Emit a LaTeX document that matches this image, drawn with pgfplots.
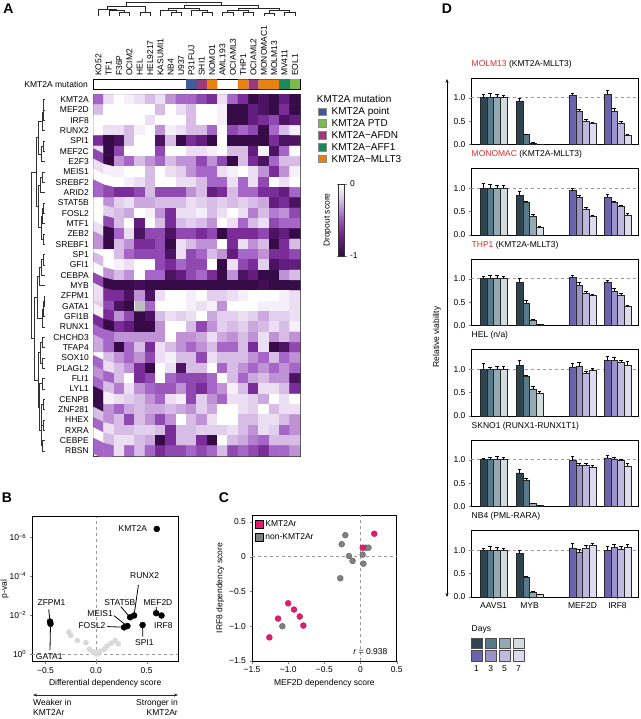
\documentclass[border=0pt]{standalone}
\usepackage{fontspec}
\setmainfont{Liberation Sans}
\usepackage{pgfplots}
\pgfplotsset{compat=1.18}
\usetikzlibrary{calc,arrows.meta}
\newcommand{\fs}{\fontsize{8.5}{10}\selectfont}
\definecolor{kpoint}{HTML}{3F5B9A}
\definecolor{kptd}{HTML}{7DBA4C}
\definecolor{kafdn}{HTML}{9B3A7A}
\definecolor{kaff1}{HTML}{1A8A5C}
\definecolor{kmllt3}{HTML}{E8820E}
\definecolor{kpink}{HTML}{E8196F}
\definecolor{tred}{HTML}{E32B2B}
\definecolor{g1}{HTML}{2E4550}
\definecolor{g3}{HTML}{58798A}
\definecolor{g5}{HTML}{93A9B3}
\definecolor{g7}{HTML}{D2DCDF}
\definecolor{p1}{HTML}{6C63AE}
\definecolor{p3}{HTML}{9B93C9}
\definecolor{p5}{HTML}{BFB9DF}
\definecolor{p7}{HTML}{DEDBEF}
\definecolor{lgray}{HTML}{D9D9D9}
\pgfplotsset{
  every axis/.append style={font=\fs, /pgf/number format/assume math mode=true,
    tick label style={font=\fs}, label style={font=\fs}, title style={font=\fs}},
  colormap={purp}{rgb255(0cm)=(55,10,72); rgb255(3cm)=(115,35,145); rgb255(5.5cm)=(165,100,198); rgb255(8cm)=(220,198,233); rgb255(10cm)=(255,255,255)},
  dpanel/.style={scale only axis, width=167pt, height=66.5pt, xmin=471, xmax=638, ymin=0, ymax=1.42,
    ytick={0,0.5,1}, yticklabels={0.0,0.5,1.0}, xtick=\empty, tick pos=left, tick align=outside,
    major tick length=2pt, axis line style={line width=0.6pt},
    title style={at={(0,1)}, anchor=south west, inner xsep=0.5pt, yshift=0.5pt}, clip=false},
  bst/.style={ybar, bar width=6.7, draw=black!85, line width=0.35pt,
    error bars/y dir=plus, error bars/y explicit,
    error bars/error bar style={black, line width=0.45pt},
    error bars/error mark options={rotate=90, black, mark size=1.8pt, line width=0.45pt}},
}
\newcommand{\dbars}[8]{%
\addplot[fill=g1,bst] coordinates {#1};
\addplot[fill=g3,bst] coordinates {#2};
\addplot[fill=g5,bst] coordinates {#3};
\addplot[fill=g7,bst] coordinates {#4};
\addplot[fill=p1,bst] coordinates {#5};
\addplot[fill=p3,bst] coordinates {#6};
\addplot[fill=p5,bst] coordinates {#7};
\addplot[fill=p7,bst] coordinates {#8};
}
\newcommand{\dline}{\addplot[dashed, black!40, line width=0.5pt] coordinates {(471,1) (638,1)};}
\begin{document}
\begin{tikzpicture}
\path[use as bounding box] (0,0) rectangle (640pt,-719pt);
% ---------------- Panel letters
\node[font=\bfseries\fontsize{14}{16}\selectfont] at (8.5pt,-9pt) {A};
\node[font=\bfseries\fontsize{14}{16}\selectfont] at (7pt,-498pt) {B};
\node[font=\bfseries\fontsize{14}{16}\selectfont] at (224pt,-498pt) {C};
\node[font=\bfseries\fontsize{14}{16}\selectfont] at (447pt,-8.5pt) {D};
% ---------------- top dendrogram
\begin{axis}[at={(93.3pt,-15.7pt)}, anchor=south west, scale only axis, width=206.7pt, height=13pt,
  xmin=-0.5, xmax=19.5, ymin=0, ymax=1, hide axis, unbounded coords=jump]
\addplot[black!85, line width=0.45pt] coordinates {
(2,0) (2,.25) (3,.25) (3,0) (nan,nan)
(1,0) (1,.4) (2.5,.4) (2.5,.25) (nan,nan)
(0,0) (0,.5) (1.75,.5) (1.75,.4) (nan,nan)
(4,0) (4,.3) (5,.3) (5,0) (nan,nan)
(0.875,.5) (0.875,.7) (4.5,.7) (4.5,.3) (nan,nan)
(7,0) (7,.3) (8,.3) (8,0) (nan,nan)
(6,0) (6,.45) (7.5,.45) (7.5,.3) (nan,nan)
(10,0) (10,.3) (11,.3) (11,0) (nan,nan)
(9,0) (9,.45) (10.5,.45) (10.5,.3) (nan,nan)
(6.75,.45) (6.75,.6) (9.75,.6) (9.75,.45) (nan,nan)
(12,0) (12,.25) (13,.25) (13,0) (nan,nan)
(14,0) (14,.3) (15,.3) (15,0) (nan,nan)
(12.5,.25) (12.5,.45) (14.5,.45) (14.5,.3) (nan,nan)
(16,0) (16,.2) (17,.2) (17,0) (nan,nan)
(18,0) (18,.3) (19,.3) (19,0) (nan,nan)
(16.5,.2) (16.5,.4) (18.5,.4) (18.5,.3) (nan,nan)
(13.5,.45) (13.5,.6) (17.5,.6) (17.5,.4) (nan,nan)
(8.25,.6) (8.25,.8) (15.5,.8) (15.5,.6) (nan,nan)
(2.6875,.7) (2.6875,1) (11.875,1) (11.875,.8)
};
\end{axis}
% ---------------- mutation bar
\begin{axis}[at={(93.3pt,-89.3pt)}, anchor=south west, scale only axis, width=206.7pt, height=10pt,
  xmin=-0.5, xmax=19.5, ymin=0, ymax=1, xtick=\empty, ytick={0.5}, yticklabels={KMT2A mutation},
  major tick length=0pt, yticklabel style={xshift=-2pt}, axis line style={line width=0.6pt}]
\addplot[ybar, bar width=1, fill=kpoint, draw=none] coordinates {(9,1)};
\addplot[ybar, bar width=1, fill=kafdn, draw=none] coordinates {(10,1) (15,1)};
\addplot[ybar, bar width=1, fill=kmllt3, draw=none] coordinates {(11,1) (14,1) (16,1) (17,1)};
\addplot[ybar, bar width=1, fill=kaff1, draw=none] coordinates {(18,1)};
\addplot[ybar, bar width=1, fill=kptd, draw=none] coordinates {(19,1)};
\end{axis}
% ---------------- heatmap
\begin{axis}[name=hm, at={(93.3pt,-456pt)}, anchor=south west, scale only axis, width=206.7pt, height=361.7pt,
  xmin=-0.5, xmax=19.5, ymin=-34.5, ymax=0.5, enlargelimits=false,
  colormap name=purp, point meta min=-1, point meta max=0,
  xtick={0,...,19},
  xticklabels={KO52,TF1,F36P,OCIM2,HEL,HEL9217,KASUMI1,NB4,U937,P31FUJ,SHI1,NOMO1,AML193,OCIAML3,THP1,OCIAML2,MONOMAC1,MOLM13,MV411,EOL1},
  xticklabel pos=upper, xticklabel style={rotate=90, anchor=west}, xticklabel shift=15pt,
  ytick={0,-1,...,-34},
  yticklabels={KMT2A,MEF2D,IRF8,RUNX2,SPI1,MEF2C,E2F3,MEIS1,SREBF2,ARID2,STAT5B,FOSL2,MTF1,ZEB2,SREBF1,SP1,GFI1,CEBPA,MYB,ZFPM1,GATA1,GFI1B,RUNX1,CHCHD3,TFAP4,SOX10,PLAGL2,FLI1,LYL1,CENPB,ZNF281,HHEX,RXRA,CEBPE,RBSN},
  yticklabel style={xshift=-1pt},
  major tick length=0pt, axis line style={black!75, line width=0.6pt},
  colorbar,
  colorbar style={at={($(parent axis.north east)+(30pt,-89.7pt)$)}, anchor=north west,
    scale only axis, width=6pt, height=72pt,
    ytick={-1,0}, yticklabels={-1,0}, yticklabel pos=right,
    major tick length=2pt, tick align=outside, axis line style={black!80, line width=0.4pt},
    ylabel={Dropout score}, ylabel style={at={(axis description cs:-0.6,0.5)}, anchor=south}},
]
\addplot[matrix plot*, mesh/cols=20, mesh/ordering=x varies, point meta=explicit]
table[row sep=\\, x expr={mod(\coordindex,20)}, y expr={-floor(\coordindex/20)}, meta expr={-\thisrow{v}/9}] {
v\\
4\\1\\0\\0.5\\1\\2\\1\\3\\4\\4\\5\\6\\1\\4\\6\\9\\8\\9\\7\\9\\
2\\0\\0\\0\\0\\0\\2\\0\\1\\2\\0\\0\\0.5\\9\\9\\7\\8\\9\\6\\9\\
0\\0\\0\\0\\0\\1\\0\\0\\0\\2\\0\\0\\0.5\\9\\9\\7\\6\\5\\8\\7\\
0\\1\\1\\2\\0.5\\0\\3\\0.5\\1\\2\\2\\4\\0\\5\\4\\5\\9\\4\\2\\0.5\\
6\\9\\8\\2\\0\\0\\8\\2\\9\\6\\7\\9\\0\\9\\9\\9\\9\\6\\8\\8\\
1\\9\\5\\0\\0\\0\\5\\0\\0\\1\\1\\0.5\\0\\2\\2\\7\\0.5\\8\\4\\0\\
5\\9\\3\\4\\2\\3\\4\\2\\3\\3\\5\\3\\5\\9\\2\\6\\8\\4\\2\\2\\
1\\0.5\\0.5\\0\\0\\2\\0\\1\\1.5\\3\\4\\4\\1\\0.5\\0\\1\\3\\6\\3\\0.5\\
0\\0\\0\\0.5\\1\\2\\0\\0\\1\\1\\2\\4\\4\\1\\4\\1\\5\\0\\1\\0\\
4\\5\\6\\6\\5\\2\\5\\5\\5\\3\\2\\7\\6\\2\\4\\4\\6\\6\\7\\4\\
0\\3\\1.5\\1\\2.5\\2.5\\2\\2\\2\\1\\1.5\\2\\1.5\\2\\1.5\\2\\2.5\\7\\6\\8\\
0\\1.5\\2\\2.5\\0\\0.5\\3\\6\\1\\1\\0.5\\2\\1\\0\\1\\3.5\\2\\3.5\\3\\5\\
0\\5\\2\\0\\7\\0\\2\\6\\2\\1.5\\2\\3\\0\\1\\4\\2\\1\\5\\4\\4\\
1\\9\\4\\1\\8\\5\\5\\8\\5\\5\\6\\5\\9\\6\\6\\6\\5\\8\\7\\9\\
3\\9\\2\\3\\6\\6\\5\\9\\1\\2\\3\\3\\0\\6\\1\\3\\2\\9\\6\\2\\
0\\0\\2\\4\\5\\5\\5\\8\\1\\5\\4\\2\\3\\7\\4\\4\\3\\6\\6\\5\\
2\\0\\0.5\\1\\0\\0\\5\\6\\4\\5\\5\\0\\9\\1\\5\\6\\1.5\\8\\7\\7\\
0\\3\\2\\3\\0\\4\\4\\8\\7\\5\\4\\6\\9\\3\\8\\7\\9\\9\\3\\2\\
5\\9\\9\\9\\8.5\\9\\9\\9\\9\\9\\9\\9\\9\\9\\9\\9\\8.5\\9\\9\\9\\
1\\6\\6\\8\\3\\8\\1\\0\\0\\0.5\\0\\1.5\\1.5\\1\\0.5\\0\\0\\0\\0.5\\1\\
1.5\\5\\8\\9\\0\\4\\0\\0\\0\\0.5\\1\\0.5\\3\\0\\0\\0\\0.5\\0.5\\0.5\\1\\
0.5\\6\\3\\5\\9\\8\\2\\1\\1.5\\1\\0\\2.5\\1.5\\1.5\\1\\1.5\\2.5\\1.5\\1.5\\1\\
6\\9\\6\\7\\9\\9\\3\\0\\0\\2\\5\\3\\1.5\\2\\1.5\\2.5\\2\\1\\2\\0.5\\
4\\4\\3\\3\\3\\3\\3\\0\\3\\3\\2.5\\1\\2.5\\3\\2\\3\\1\\3\\2\\3\\
2.5\\4\\9\\4\\2\\6\\1\\2\\3\\4\\3\\2\\4\\4\\2\\6\\1\\9\\8\\5\\
0\\2\\3\\4\\3\\5\\1\\0.5\\2\\2\\5\\1\\2\\2\\2\\3\\4\\2\\4\\3\\
4\\1\\2\\3\\6\\9\\0\\1\\8\\2\\2\\0\\4\\2\\3\\4\\3\\4\\3\\4\\
3\\4\\2\\0\\6\\5\\0\\4\\5\\5\\5\\4\\0\\2\\4\\2.5\\2\\3\\3\\8\\
4\\2\\3.5\\1\\3\\4\\4.5\\4.5\\3\\5\\6\\4\\3\\0.5\\2\\6\\1\\1\\2\\6\\
9\\0.5\\1\\1.5\\2\\3\\4\\1\\0.5\\5\\1.5\\3\\4\\1\\1\\1.5\\2.5\\0\\1\\0\\
9\\3\\4\\2.5\\2\\2.5\\2.5\\2\\2.5\\3\\1.5\\2.5\\0\\0\\1\\1.5\\0\\2\\1\\1\\
2\\3\\2\\5\\2\\3\\5\\3\\0\\2\\3\\1\\0\\0\\2\\2\\1\\1\\2\\3\\
4\\1\\2\\2\\1.5\\1.5\\2\\6\\2\\2\\1.5\\1.5\\1.5\\1\\2\\3\\1\\1.5\\4\\3\\
0\\2\\1\\1\\2\\2.5\\9\\6\\2\\2\\6\\9\\0\\2\\2.5\\3.5\\4\\2\\2\\2\\
4\\4\\1\\4\\2\\4\\6\\5\\5\\4\\5\\4\\2\\5\\4\\5\\6\\4\\4\\3\\
};
\addplot[fill=black!25, draw=none] coordinates {(3.5,-19.5) (4.5,-19.5) (4.5,-20.5) (3.5,-20.5) (3.5,-19.5)};
\end{axis}
% ---------------- left dendrogram
\begin{axis}[at={(31pt,-456pt)}, anchor=south west, scale only axis, width=14pt, height=361.7pt,
  xmin=0, xmax=1, x dir=reverse, ymin=-34.5, ymax=0.5, hide axis, unbounded coords=jump]
\addplot[black!80, line width=0.45pt] coordinates {
(0,0) (.1,0) (.1,-1) (0,-1) (nan,nan)
(.1,-.5) (.15,-.5) (.15,-2) (0,-2) (nan,nan)
(.15,-1.25) (.2,-1.25) (.2,-3) (0,-3) (nan,nan)
(0,-4) (.15,-4) (.15,-5) (0,-5) (nan,nan)
(.15,-4.5) (.25,-4.5) (.25,-6) (0,-6) (nan,nan)
(.2,-2.125) (.45,-2.125) (.45,-5.25) (.25,-5.25) (nan,nan)
(0,-7) (.2,-7) (.2,-8) (0,-8) (nan,nan)
(.2,-7.5) (.35,-7.5) (.35,-9) (0,-9) (nan,nan)
(0,-10) (.12,-10) (.12,-11) (0,-11) (nan,nan)
(.12,-10.5) (.2,-10.5) (.2,-12) (0,-12) (nan,nan)
(0,-13) (.15,-13) (.15,-14) (0,-14) (nan,nan)
(.2,-11.25) (.3,-11.25) (.3,-13.5) (.15,-13.5) (nan,nan)
(.35,-8.25) (.45,-8.25) (.45,-12.375) (.3,-12.375) (nan,nan)
(.45,-3.6875) (.6,-3.6875) (.6,-10.3125) (.45,-10.3125) (nan,nan)
(0,-15) (.15,-15) (.15,-16) (0,-16) (nan,nan)
(.15,-15.5) (.25,-15.5) (.25,-17) (0,-17) (nan,nan)
(.25,-16.25) (.4,-16.25) (.4,-18) (0,-18) (nan,nan)
(0,-19) (.05,-19) (.05,-20) (0,-20) (nan,nan)
(.05,-19.5) (.12,-19.5) (.12,-21) (0,-21) (nan,nan)
(.12,-20.25) (.2,-20.25) (.2,-22) (0,-22) (nan,nan)
(.4,-17.125) (.55,-17.125) (.55,-21.125) (.2,-21.125) (nan,nan)
(0,-23) (.2,-23) (.2,-24) (0,-24) (nan,nan)
(0,-25) (.2,-25) (.2,-26) (0,-26) (nan,nan)
(.2,-23.5) (.35,-23.5) (.35,-25.5) (.2,-25.5) (nan,nan)
(0,-27) (.2,-27) (.2,-28) (0,-28) (nan,nan)
(0,-29) (.15,-29) (.15,-30) (0,-30) (nan,nan)
(0,-31) (.15,-31) (.15,-32) (0,-32) (nan,nan)
(.15,-29.5) (.25,-29.5) (.25,-31.5) (.15,-31.5) (nan,nan)
(0,-33) (.22,-33) (.22,-34) (0,-34) (nan,nan)
(.25,-30.5) (.3,-30.5) (.3,-33.5) (.22,-33.5) (nan,nan)
(.2,-27.5) (.4,-27.5) (.4,-32) (.3,-32) (nan,nan)
(.35,-24.5) (.5,-24.5) (.5,-29.75) (.4,-29.75) (nan,nan)
(.55,-19.125) (.75,-19.125) (.75,-27.125) (.5,-27.125) (nan,nan)
(.6,-7) (1,-7) (1,-23.125) (.75,-23.125)
};
\end{axis}
% ---------------- mutation legend
\node[anchor=west, inner sep=0pt] at (316.7pt,-99.3pt) {KMT2A mutation};
\foreach \c/\y/\t in {kpoint/111.5/KMT2A point, kptd/123.3/KMT2A PTD, kafdn/135.3/KMT2A−AFDN, kaff1/147/KMT2A−AFF1, kmllt3/158.7/KMT2A−MLLT3}{
  \filldraw[fill=\c, draw=black!45, line width=0.3pt] (318.3pt,-\y pt+3.7pt) rectangle (326pt,-\y pt-3.7pt);
  \node[anchor=west, inner sep=0pt] at (331.5pt,-\y pt) {\t};
}
% ---------------- Panel B
\begin{axis}[at={(32.3pt,-661.7pt)}, anchor=south west, scale only axis, width=145.7pt, height=145pt,
  xmin=-0.63, xmax=0.81, ymin=-0.4, ymax=7.07,
  xtick={-0.5,0,0.5}, xticklabels={−0.5,0.0,0.5},
  ytick={0,2,4,6}, yticklabels={10\textsuperscript{0},10\textsuperscript{−2},10\textsuperscript{−4},10\textsuperscript{−6}},
  tick pos=left, tick align=outside, major tick length=2.5pt, axis line style={line width=0.6pt},
  xlabel={Differential dependency score}, xlabel style={at={(axis description cs:0.5,-0.147)}, anchor=center},
  ylabel={p-val}, ylabel style={at={(axis description cs:-0.19,0.5)}, anchor=center},
  clip=false]
\addplot[dashed, black!40, line width=0.5pt] coordinates {(-0.63,0) (0.81,0)};
\addplot[dashed, black!40, line width=0.5pt] coordinates {(0,-0.4) (0,7.07)};
\addplot[only marks, color=lgray, mark=*, mark size=2.6pt, mark options={fill=lgray, draw=lgray}] coordinates {
(-0.27,1.13) (-0.25,0.95) (-0.185,0.69) (-0.10,0.58) (-0.066,0.24) (-0.03,0.12) (-0.015,0.07) (0.01,0.03)
(0.04,0.14) (0.08,0.24) (0.11,0.41) (0.15,0.55) (0.19,0.69) (0.22,0.52) (0.0,0.0)};
\draw[black, line width=0.8pt] (axis cs:0.419,3.56) -- (axis cs:0.376,2.0);
\draw[black, line width=0.8pt] (axis cs:0.594,2.41) -- (axis cs:0.60,2.1);
\draw[black, line width=0.8pt] (axis cs:0.245,2.44) -- (axis cs:0.33,1.92);
\draw[black, line width=0.8pt] (axis cs:0.178,1.97) -- (axis cs:0.294,1.49);
\draw[black, line width=0.8pt] (axis cs:0.112,1.41) -- (axis cs:0.264,1.38);
\draw[black, line width=0.8pt] (axis cs:0.462,0.89) -- (axis cs:0.46,1.49);
\draw[black, line width=0.8pt] (axis cs:-0.468,2.3) -- (axis cs:-0.455,1.67);
\draw[black, line width=0.8pt] (axis cs:-0.45,1.55) -- (axis cs:-0.455,0.2);
\addplot[only marks, color=black, mark=*, mark size=3pt, mark options={fill=black, draw=black}] coordinates {
(0.60,6.44) (0.376,1.98) (0.337,1.89) (0.594,2.1) (0.647,1.98) (0.31,1.44) (0.277,1.37) (0.46,1.49) (-0.455,1.67) (-0.45,1.55)};
\node[anchor=east, inner sep=1pt] at (axis cs:0.515,6.44) {KMT2A};
\node at (axis cs:0.48,4.04) {RUNX2};
\node at (axis cs:0.612,2.66) {MEF2D};
\node at (axis cs:0.666,1.48) {IRF8};
\node at (axis cs:0.235,2.66) {STAT5B};
\node at (axis cs:0.04,2.1) {MEIS1};
\node at (axis cs:-0.04,1.46) {FOSL2};
\node at (axis cs:0.477,0.58) {SPI1};
\node at (axis cs:-0.44,2.64) {ZFPM1};
\node[inner sep=0pt] at (axis cs:-0.463,-0.13) {GATA1};
\end{axis}
\draw[{Stealth[length=4pt,width=3pt]}-{Stealth[length=4pt,width=3pt]}, line width=0.5pt, black!85] (33pt,-695pt) -- (178pt,-695pt);
\node[anchor=north west, align=left, inner sep=0pt, font=\fs] at (33pt,-699pt) {Weaker in\\KMT2Ar};
\node[anchor=north east, align=right, inner sep=0pt, font=\fs] at (178pt,-699pt) {Stronger in\\KMT2Ar};
% ---------------- Panel C
\begin{axis}[at={(252pt,-661pt)}, anchor=south west, scale only axis, width=144.7pt, height=146pt,
  xmin=-1.5, xmax=0.5, ymin=-1.5, ymax=0.6,
  xtick={-1.5,-1,-0.5,0,0.5}, xticklabels={−1.5,−1.0,−0.5,0,0.5},
  ytick={-1.5,-1,-0.5,0,0.5}, yticklabels={−1.5,−1.0,−0.5,0,0.5},
  tick pos=left, tick align=outside, major tick length=2.5pt, axis line style={line width=0.6pt},
  xlabel={MEF2D dependency score}, xlabel style={at={(axis description cs:0.5,-0.15)}, anchor=center},
  ylabel={IRF8 dependency score}, ylabel style={at={(axis description cs:-0.22,0.5)}, anchor=center},
  legend style={at={(axis description cs:0.015,0.985)}, anchor=north west, draw=none, fill=none, font=\fs, row sep=1.5pt, inner sep=1pt},
  legend cell align=left,
  legend image code/.code={\fill[#1] (0pt,-3.8pt) rectangle (7.6pt,3.8pt);},
  clip=false]
\addplot[dashed, black!40, line width=0.5pt, forget plot] coordinates {(-1.5,0) (0.5,0)};
\addplot[dashed, black!40, line width=0.5pt, forget plot] coordinates {(0,-1.5) (0,0.6)};
\addplot[only marks, mark=*, mark size=3pt, mark options={fill=black!50, draw=black!65, line width=0.3pt}, forget plot] coordinates {
(-0.21,0.31) (-0.26,0.18) (-0.16,0.01) (-0.11,-0.06) (-0.28,-0.31) (0.07,0.13) (0.11,0.13) (0.03,0.03) (0.04,-0.1) (-1.08,-1.0)};
\addplot[only marks, mark=*, mark size=3pt, mark options={fill=kpink, draw=kpink!75!black, line width=0.3pt}, forget plot] coordinates {
(0.19,0.33) (0.03,0.13) (-1.0,-0.67) (-0.92,-0.76) (-1.14,-0.89) (-0.84,-0.86) (-0.79,-0.99) (-1.26,-1.16)};
\addlegendimage{fill=kpink}
\addlegendentry{KMT2Ar}
\addlegendimage{fill=black!50}
\addlegendentry{non-KMT2Ar}
\node[anchor=east] at (axis description cs:0.96,0.065) {\textit{r} = 0.938};
\end{axis}
% ---------------- Panel D
\node[rotate=90, font=\fs] at (437pt,-337pt) {Relative viability};
\draw[{Stealth[length=4pt,width=3pt]}-{Stealth[length=4pt,width=3pt]}, line width=0.5pt] (447pt,-79pt) -- (447pt,-597pt);
\begin{axis}[dpanel, at={(471pt,-144.5pt)}, anchor=south west, title={\textcolor{tred}{MOLM13} (KMT2A-MLLT3)}]
\dline
\dbars{(483.4,1) +- (0,.08) (519.4,.93) +- (0,.06)}
{(490.1,1) +- (0,.09) (526.1,.21) +- (0,.02)}
{(496.8,1) +- (0,.08) (532.8,.03) +- (0,.01)}
{(503.5,1) +- (0,.06) (539.5,.01) +- (0,.005)}
{(572.4,1.05) +- (0,.05) (607.4,1.07) +- (0,.08)}
{(579.1,.72) +- (0,.04) (614.1,.72) +- (0,.05)}
{(585.8,.50) +- (0,.03) (620.8,.45) +- (0,.05)}
{(592.5,.45) +- (0,.03) (627.5,.20) +- (0,.03)}
\end{axis}
\begin{axis}[dpanel, at={(471pt,-235pt)}, anchor=south west, title={\textcolor{tred}{MONOMAC} (KMT2A-MLLT3)}]
\dline
\dbars{(483.4,1) +- (0,.1) (519.4,.85) +- (0,.08)}
{(490.1,1) +- (0,.08) (526.1,.70) +- (0,.03)}
{(496.8,1) +- (0,.07) (532.8,.40) +- (0,.05)}
{(503.5,1) +- (0,.07) (539.5,.16) +- (0,.03)}
{(572.4,.95) +- (0,.05) (607.4,.81) +- (0,.06)}
{(579.1,.81) +- (0,.03) (614.1,.70) +- (0,.03)}
{(585.8,.56) +- (0,.03) (620.8,.61) +- (0,.03)}
{(592.5,.40) +- (0,.02) (627.5,.43) +- (0,.04)}
\end{axis}
\begin{axis}[dpanel, at={(471pt,-325.5pt)}, anchor=south west, title={\textcolor{tred}{THP1} (KMT2A-MLLT3)}]
\dline
\dbars{(483.4,1) +- (0,.05) (519.4,.92) +- (0,.08)}
{(490.1,1) +- (0,.07) (526.1,.47) +- (0,.06)}
{(496.8,1) +- (0,.07) (532.8,.12) +- (0,.01)}
{(503.5,1) +- (0,.06) (539.5,.02) +- (0,.01)}
{(572.4,1.03) +- (0,.05) (607.4,.92) +- (0,.05)}
{(579.1,.86) +- (0,.07) (614.1,.74) +- (0,.05)}
{(585.8,.70) +- (0,.04) (620.8,.64) +- (0,.04)}
{(592.5,.64) +- (0,.03) (627.5,.42) +- (0,.01)}
\end{axis}
\begin{axis}[dpanel, at={(471pt,-416pt)}, anchor=south west, title={HEL (n/a)}]
\dline
\dbars{(483.4,1) +- (0,.12) (519.4,1.08) +- (0,.12)}
{(490.1,1) +- (0,.05) (526.1,.85) +- (0,.02)}
{(496.8,1) +- (0,.06) (532.8,.58) +- (0,.05)}
{(503.5,1) +- (0,.06) (539.5,.48) +- (0,.04)}
{(572.4,1.05) +- (0,.08) (607.4,1.19) +- (0,.09)}
{(579.1,1.06) +- (0,.08) (614.1,1.19) +- (0,.07)}
{(585.8,.91) +- (0,.05) (620.8,1.15) +- (0,.04)}
{(592.5,.97) +- (0,.05) (627.5,1.08) +- (0,.1)}
\end{axis}
\begin{axis}[dpanel, at={(471pt,-506.5pt)}, anchor=south west, title={SKNO1 (RUNX1-RUNX1T1)}]
\dline
\dbars{(483.4,1) +- (0,.04) (519.4,.72) +- (0,.07)}
{(490.1,1) +- (0,.05) (526.1,.57) +- (0,.04)}
{(496.8,1) +- (0,.07) (532.8,.07) +- (0,.01)}
{(503.5,1) +- (0,.05) (539.5,.02) +- (0,.01)}
{(572.4,.98) +- (0,.09) (607.4,1.04) +- (0,.06)}
{(579.1,.89) +- (0,.04) (614.1,1.02) +- (0,.04)}
{(585.8,.89) +- (0,.03) (620.8,.98) +- (0,.04)}
{(592.5,.85) +- (0,.03) (627.5,.87) +- (0,.05)}
\end{axis}
\begin{axis}[dpanel, at={(471pt,-597pt)}, anchor=south west, title={NB4 (PML-RARA)},
  xtick={493.5,529.5,582.5,617.5}, xticklabels={AAVS1,MYB,MEF2D,IRF8}]
\dline
\dbars{(483.4,1) +- (0,.05) (519.4,.93) +- (0,.06)}
{(490.1,1) +- (0,.08) (526.1,.43) +- (0,.02)}
{(496.8,1) +- (0,.07) (532.8,.11) +- (0,.01)}
{(503.5,1) +- (0,.04) (539.5,.05) +- (0,.01)}
{(572.4,1.05) +- (0,.1) (607.4,1.0) +- (0,.08)}
{(579.1,.96) +- (0,.07) (614.1,1.06) +- (0,.07)}
{(585.8,1.05) +- (0,.05) (620.8,1.02) +- (0,.07)}
{(592.5,1.11) +- (0,.04) (627.5,1.07) +- (0,.05)}
\end{axis}
% Days legend
\node[anchor=west, inner sep=0pt, font=\fs] at (471.5pt,-629.7pt) {Days};
\foreach \c/\x in {g1/471.3, g3/485.5, g5/499.3, g7/513.3}{
  \filldraw[fill=\c, draw=black!70, line width=0.4pt] (\x pt,-637.7pt) rectangle (\x pt+10.5pt,-647.9pt);}
\foreach \c/\x in {p1/471.3, p3/485.5, p5/499.3, p7/513.3}{
  \filldraw[fill=\c, draw=black!70, line width=0.4pt] (\x pt,-650.6pt) rectangle (\x pt+10.5pt,-660.8pt);}
\foreach \l/\x in {1/476.6, 3/490.8, 5/504.5, 7/518.6}{
  \node[font=\fs, inner sep=0pt] at (\x pt,-669pt) {\l};}
\end{tikzpicture}
\end{document}
